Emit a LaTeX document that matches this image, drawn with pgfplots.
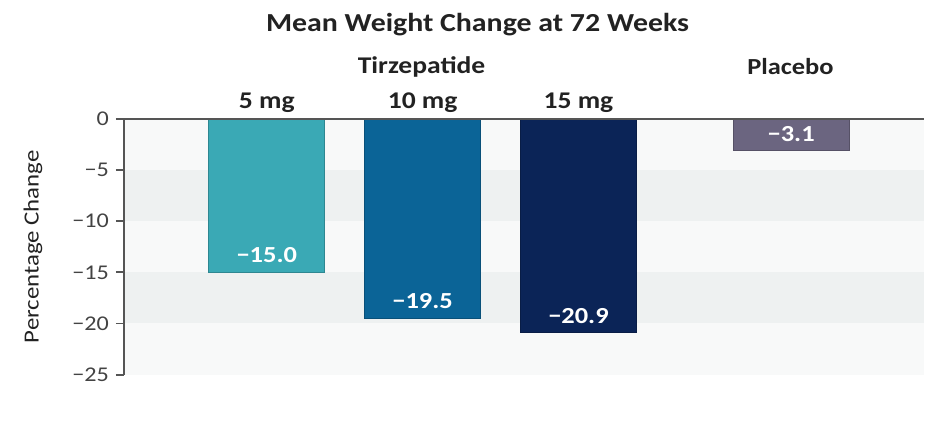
\documentclass[border=0pt]{standalone}
\usepackage{fontspec}
\setmainfont{Carlito}[FakeStretch=1.15]
\usepackage{pgfplots}
\pgfplotsset{compat=1.18}
\definecolor{c5}{HTML}{3AA9B5}
\definecolor{c10}{HTML}{0B6497}
\definecolor{c15}{HTML}{0B2457}
\definecolor{cpl}{HTML}{6B6580}
\definecolor{stripe}{HTML}{EEF1F1}
\definecolor{bgl}{HTML}{F8F9F9}
\definecolor{axc}{HTML}{555555}
\definecolor{txt}{HTML}{222222}
\begin{document}
\begin{tikzpicture}
\begin{axis}[
  scale only axis, width=400.5pt, height=128pt,
  xmin=0.083, xmax=5.218, ymin=-25, ymax=0,
  clip=false, axis on top,
  axis background/.style={fill=bgl},
  axis x line*=top, axis y line*=left,
  axis line style={axc, line width=0.9pt},
  xtick={1,2,3}, xticklabels={5 mg,10 mg,15 mg},
  x tick label style={font=\fontsize{12}{14}\selectfont\bfseries, text=txt, yshift=-4.5pt},
  major x tick style={draw=none},
  ytick={0,-5,-10,-15,-20,-25},
  yticklabels={0,−5,−10,−15,−20,−25},
  y tick label style={font=\fontsize{10.5}{12}\selectfont, text=txt!85!white},
  tick align=outside, major tick length=4pt,
  major y tick style={axc, line width=0.9pt},
  ylabel={Percentage Change},
  ylabel style={font=\fontsize{10.8}{13}\selectfont, text=txt, at={(rel axis cs:-0.1136,0.5)}, anchor=center},
  every node near coord/.append style={font=\fontsize{11.5}{13}\selectfont\bfseries, text=white, anchor=center, yshift=8.5pt},
]
\fill[stripe] (rel axis cs:0,0.6) rectangle (rel axis cs:1,0.8);
\fill[stripe] (rel axis cs:0,0.2) rectangle (rel axis cs:1,0.4);
\addplot[ybar, bar width=58pt, bar shift=0pt, fill=c5, draw=c5!80!black, nodes near coords, point meta=explicit symbolic]
  coordinates {(1,-15.0) [−15.0]};
\addplot[ybar, bar width=58pt, bar shift=0pt, fill=c10, draw=c10!80!black, nodes near coords, point meta=explicit symbolic]
  coordinates {(2,-19.5) [−19.5]};
\addplot[ybar, bar width=58pt, bar shift=0pt, fill=c15, draw=c15!80!black, nodes near coords, point meta=explicit symbolic]
  coordinates {(3,-20.9) [−20.9]};
\addplot[ybar, bar width=58pt, bar shift=0pt, fill=cpl, draw=cpl!80!black, nodes near coords, point meta=explicit symbolic]
  coordinates {(4.365,-3.1) [−3.1]};
\node[text=txt, font=\fontsize{13}{16}\selectfont\bfseries] at (rel axis cs:0.442,1.37) {Mean Weight Change at 72 Weeks};
\node[text=txt, font=\fontsize{12}{14}\selectfont\bfseries] at (rel axis cs:0.372,1.203) {Tirzepatide};
\node[text=txt, font=\fontsize{11.5}{13}\selectfont\bfseries] at (rel axis cs:0.833,1.203) {Placebo};
\path (rel axis cs:-0.1548,-0.2109) rectangle (rel axis cs:1,1.4648);
\end{axis}
\end{tikzpicture}
\end{document}
